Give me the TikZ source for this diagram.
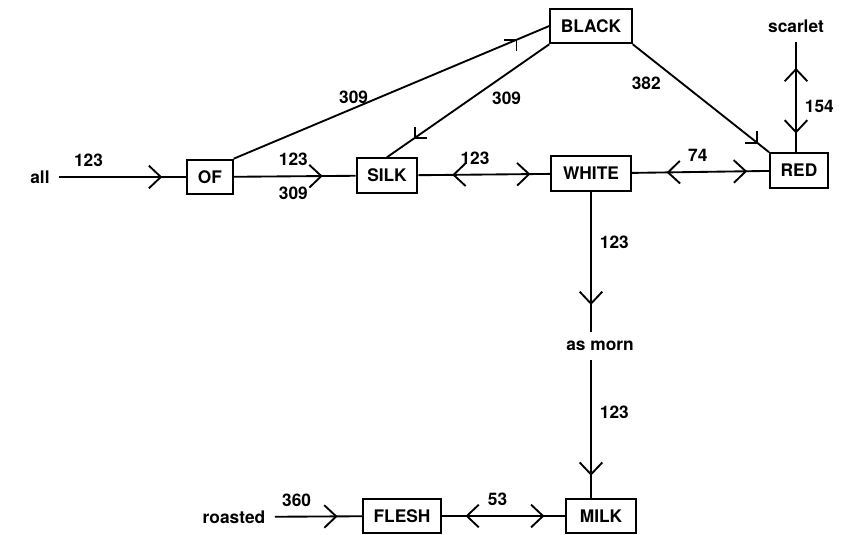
\documentclass[tikz,border=0pt]{standalone}
\usepackage{fontspec}
\setmainfont{TeX Gyre Heros}
\usetikzlibrary{positioning,arrows.meta,decorations.markings}

\begin{document}
\begin{tikzpicture}[
  x=0.75pt, y=-0.75pt,
  font=\fontsize{13pt}{15pt}\selectfont\bfseries,
  box/.style={draw, line width=1.4pt, inner xsep=8pt, minimum height=26pt},
  word/.style={inner sep=7pt},
  lab/.style={inner sep=2pt},
  link/.style={line width=1.4pt},
  fwd/.style={postaction={decorate, decoration={markings, mark=at position #1 with {\arrow{Straight Barb[length=9pt,width=17pt]}}}}},
  bwd/.style={postaction={decorate, decoration={markings, mark=at position #1 with {\arrowreversed{Straight Barb[length=9pt,width=17pt]}}}}}]
  \useasboundingbox (0,0) rectangle (847,535);
  \node[word] (all) at (40,177) {all};
  \node[box] (of) at (210,177) {OF};
  \node[box] (silk) at (387,175.5) {SILK};
  \node[box, minimum width=60pt] (white) at (591,173.5) {WHITE};
  \node[box] (red) at (799,170.5) {RED};
  \node[box] (black) at (591,26) {BLACK};
  \node[word] (scarlet) at (796,26) {scarlet};
  \node[word] (morn) at (600,346) {as morn};
  \node[box, minimum width=52pt] (milk) at (601,516) {MILK};
  \node[box] (flesh) at (402,516) {FLESH};
  \node[word] (roasted) at (234,517) {roasted};
  \draw[link, fwd=0.81] (all) -- node[lab, pos=0.23, above=5pt] (n1) {123} (of);
  \draw[link, fwd=0.73] (of) -- node[lab, pos=0.49, above=5pt] (n2) {123} node[lab, pos=0.49, below=5pt] (n3) {309} (silk);
  \draw[link] (of.north east) -- coordinate[pos=0.896] (ta) node[lab, pos=0.38, above=0.5pt] (n4) {309} (black.west);
  \draw[link] (ta) ++(-12,0) -- (ta) -- ++(0,11);
  \draw[link] (black.south west) -- coordinate[pos=0.828] (tb) node[lab, pos=0.38, below right=1pt] (n5) {309} (silk.north);
  \draw[link] (tb) ++(0,-11) -- (tb) -- ++(12,0);
  \draw[link] (black.south east) -- coordinate[pos=0.912] (tc) node[lab, pos=0.25, below left=2.7pt] (n6) {382} (red.north west);
  \draw[link] (tc) ++(-12,0) -- (tc) -- ++(0,-12);
  \draw[link, bwd=0.257, fwd=0.851] (silk) -- node[lab, pos=0.43, above=5pt] (n7) {123} (white);
  \draw[link, bwd=0.253, fwd=0.84] (white) -- node[lab, pos=0.48, above=5pt] (n8) {74} (red);
  \draw[link, bwd=0.235, fwd=0.83] (scarlet.south) -- node[lab, pos=0.58, right=4pt] (n9) {154} (scarlet.south |- red.north);
  \draw[link, fwd=0.81] (white.south) -- node[lab, pos=0.36, right=4pt] (n10) {123} (white.south |- morn.north);
  \draw[link, fwd=0.84] (white.south |- morn.south) -- node[lab, pos=0.38, right=4pt] (n11) {123} (white.south |- milk.north);
  \draw[link, fwd=0.72] (roasted) -- node[lab, pos=0.25, above=5pt] (n12) {360} (flesh);
  \draw[link, bwd=0.19, fwd=0.83] (flesh) -- node[lab, pos=0.45, above=5pt] (n13) {53} (milk);
\end{tikzpicture}
\end{document}
